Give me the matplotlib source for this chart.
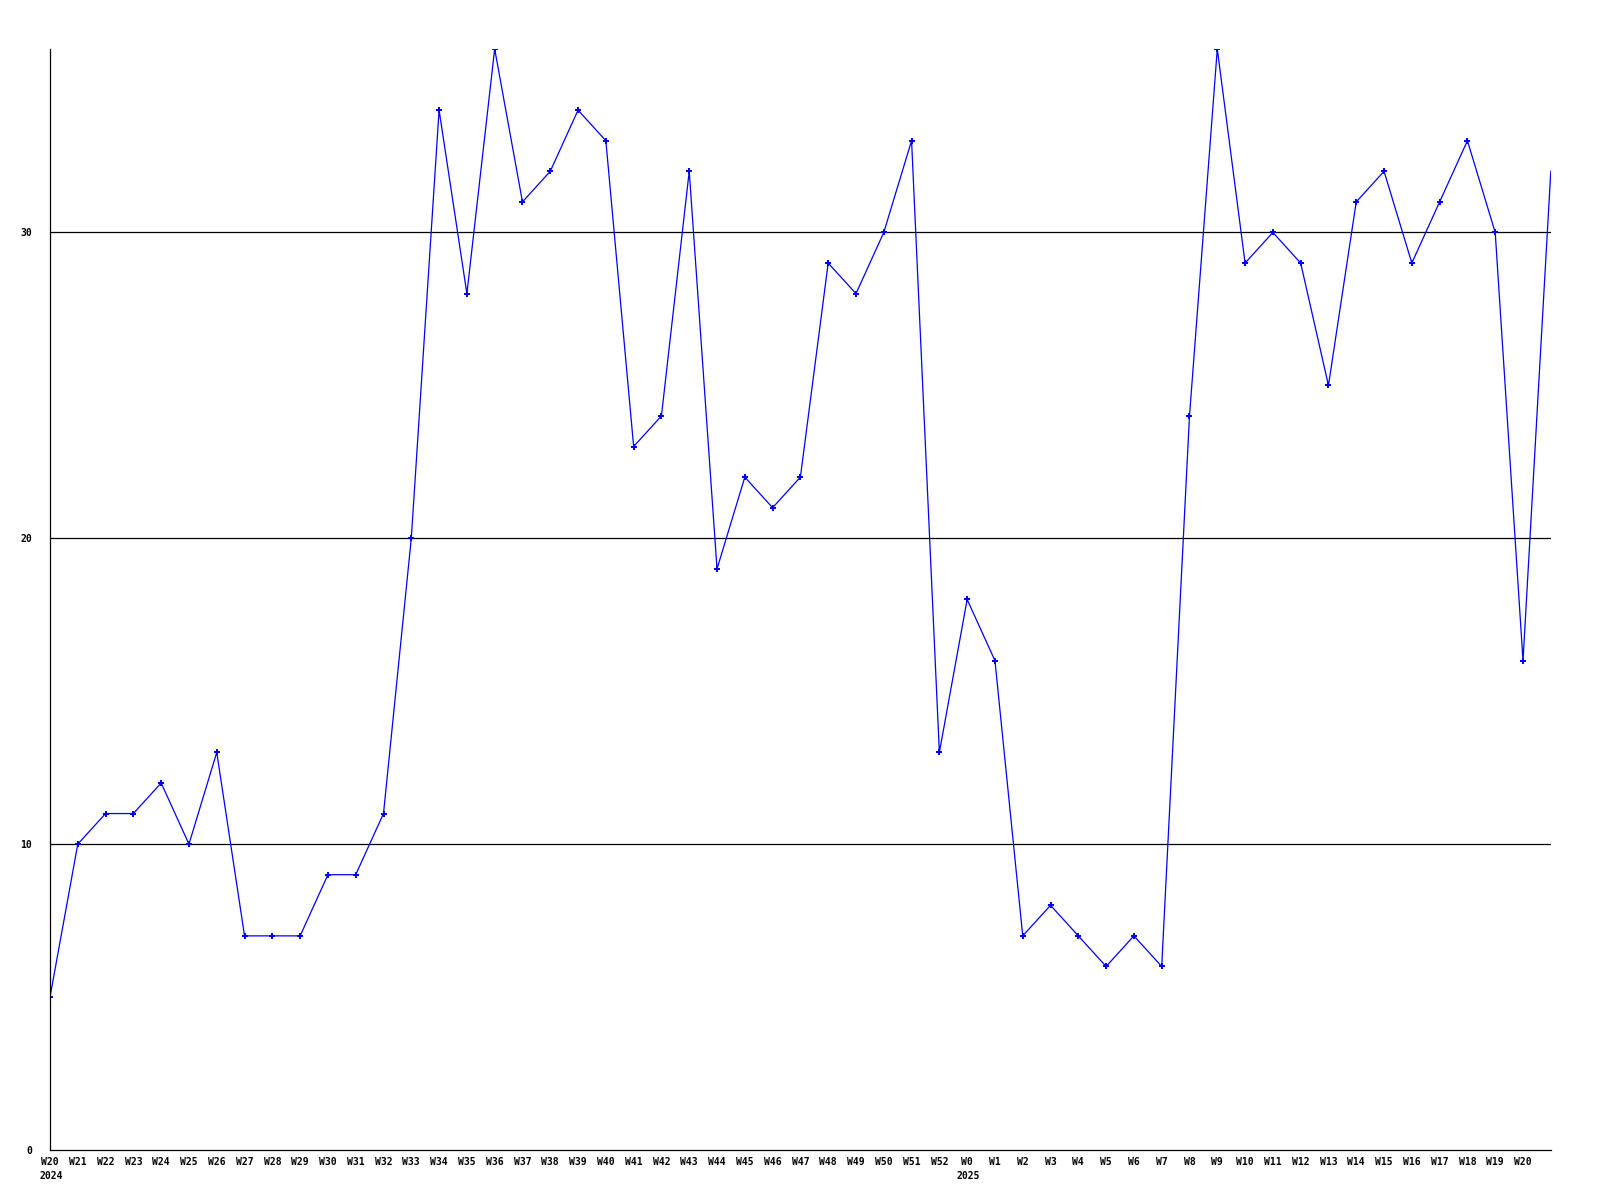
import matplotlib
matplotlib.use("Agg")
import matplotlib.pyplot as plt
from matplotlib.transforms import offset_copy

# semaines W20 2024 .. W21 2025 (le dernier point sort du cadre, sans etiquette)
weeks = ["W%d" % w for w in range(20, 53)] + ["W%d" % w for w in range(0, 21)]
years = {0: "2024", 33: "2025"}
values = [5, 10, 11, 11, 12, 10, 13, 7, 7, 7, 9, 9, 11, 20, 34, 28, 36, 31,
          32, 34, 33, 23, 24, 32, 19, 22, 21, 22, 29, 28, 30, 33, 13,
          18, 16, 7, 8, 7, 6, 7, 6, 24, 36, 29, 30, 29, 25, 31, 32, 29,
          31, 33, 30, 16, 32]
yticks = [0, 10, 20, 30]

fig = plt.figure(figsize=(16, 12), dpi=100)
ax = fig.add_axes([0.03125, 0.0417, 0.938, 0.9175])

x = list(range(len(values)))
ax.plot(x, values, color="#0000ff", lw=0.9, marker="P", ms=4, mew=0,
        markevery=list(range(len(weeks))), clip_on=True)

ax.set_xlim(0, len(values) - 1)
ax.set_ylim(0, 36)

for y in yticks[1:]:
    ax.axhline(y, color="black", lw=0.9, zorder=0)

ax.set_yticks(yticks)
ax.set_yticklabels([str(v) for v in yticks], fontsize=7, fontweight="bold",
                   family="DejaVu Sans Mono")
ax.set_xticks(range(len(weeks)))
ax.set_xticklabels(weeks, fontsize=7, fontweight="bold", family="DejaVu Sans Mono")
ax.tick_params(axis="x", length=0, pad=5)
ax.tick_params(axis="y", length=0, pad=13)

for i, yr in years.items():
    tr = offset_copy(ax.get_xaxis_transform(), fig=fig, x=-11, y=0, units="dots")
    ax.text(i, -0.019, yr, transform=tr, ha="left", va="top", fontsize=7,
            fontweight="bold", family="DejaVu Sans Mono")

for s in ["top", "right"]:
    ax.spines[s].set_visible(False)
ax.spines["left"].set_linewidth(0.9)
ax.spines["bottom"].set_linewidth(0.9)

fig.savefig("out.png", dpi=100)
